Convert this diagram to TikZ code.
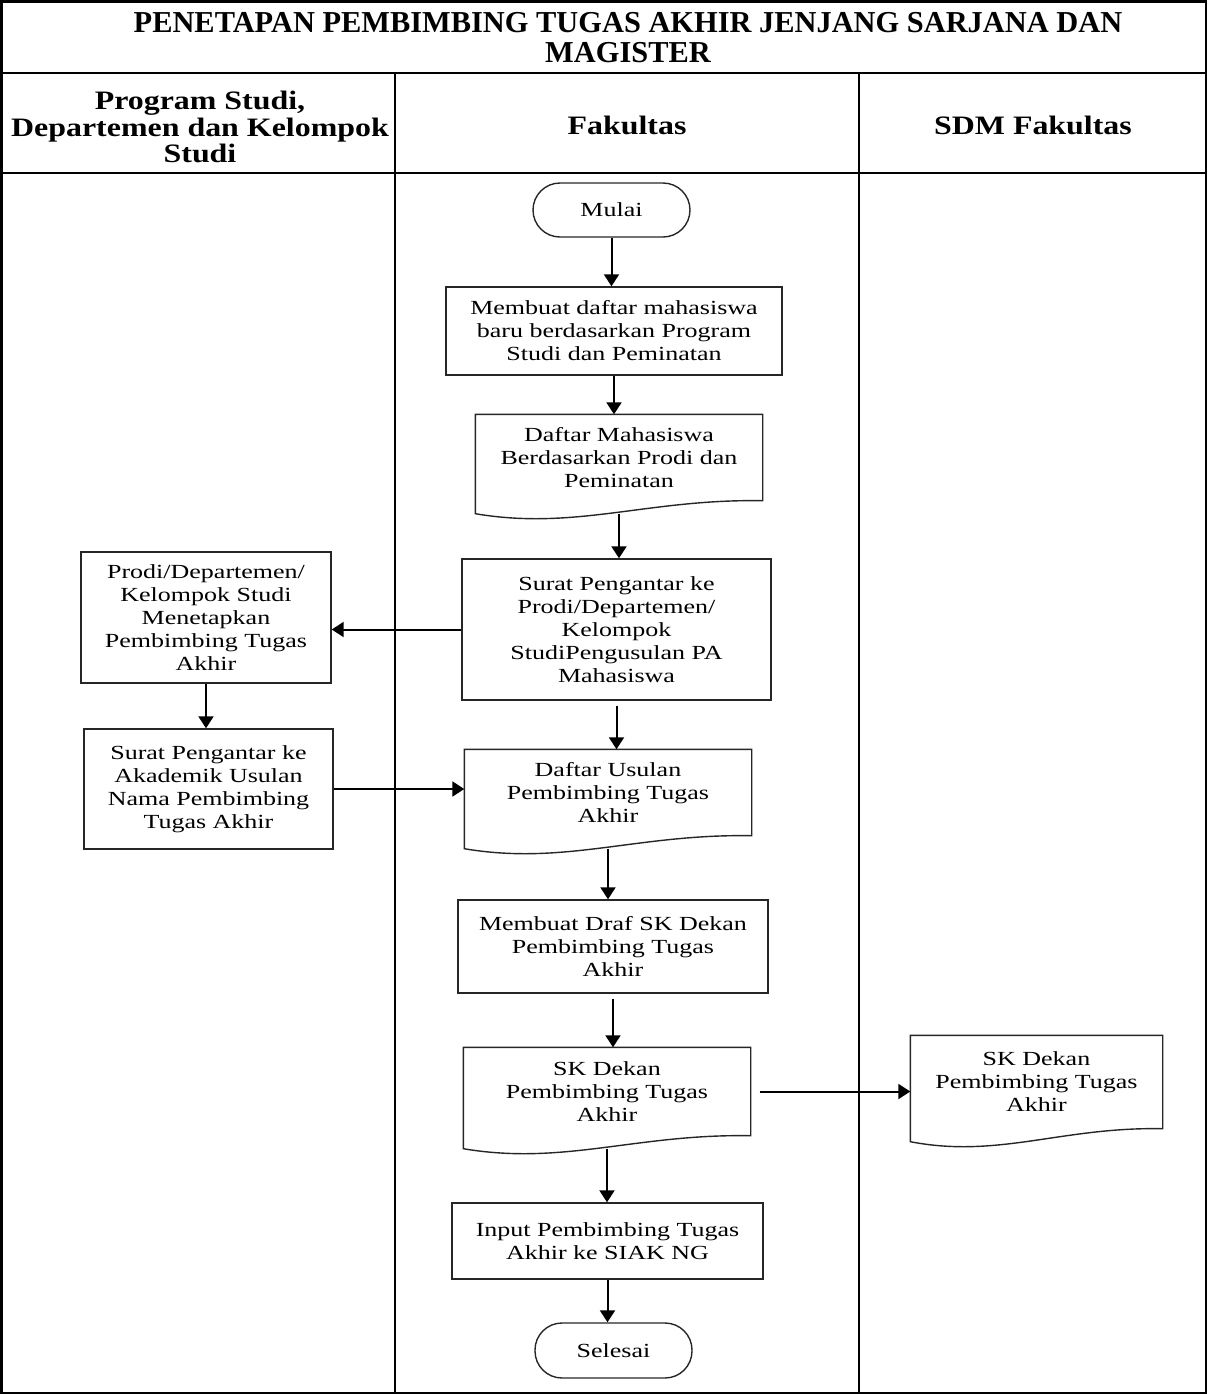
\documentclass[tikz,border=0pt]{standalone}
\usepackage{fontspec}
\setmainfont{Liberation Serif}
\newfontfamily\bodyfont{Liberation Serif}[FakeStretch=1.3]
\newfontfamily\headfont{Liberation Serif}[FakeStretch=1.2]
\newfontfamily\titlefont{Liberation Serif}
\usetikzlibrary{arrows.meta,calc}
\tikzset{
  box/.style={draw=black!85, line width=0.7pt, inner sep=0pt, align=center,
    font=\bodyfont\fontsize{10}{11.5}\selectfont},
  term/.style={box, rounded corners=13.5pt},
  doc/.style={box, draw=none},
  docline/.style={draw=black!85, line width=0.7pt},
  arr/.style={-{Triangle[length=6pt,width=7.5pt]}, line width=1pt},
  hdr/.style={align=center, inner sep=0pt, font=\headfont\bfseries\fontsize{13.3}{13.3}\selectfont},
}
\newcommand{\docpath}[1]{\draw[docline] (#1.south east) -- (#1.north east) -- (#1.north west) -- ($(#1.south west)+(0,13)$) .. controls ($(#1.south west)!0.35!(#1.south east)+(0,30)$) and ($(#1.south west)!0.6!(#1.south east)+(0,-2)$) .. cycle;}
\begin{document}
\begin{tikzpicture}[x=0.5pt,y=-0.5pt]
\useasboundingbox (0,0) rectangle (1207,1394);
% frame and lanes
\draw[line width=1.25pt] (1.25,1.25) rectangle (1205.75,1392.75);
\draw[line width=1pt] (0,73) -- (1207,73);
\draw[line width=1pt] (0,173) -- (1207,173);
\draw[line width=0.8pt] (395,73) -- (395,1394);
\draw[line width=0.8pt] (859,73) -- (859,1394);
% title and headers
\node[align=center, inner sep=0pt, font=\titlefont\bfseries\fontsize{15.2}{15}\selectfont] (title) at (628,38)
  {PENETAPAN PEMBIMBING TUGAS AKHIR JENJANG SARJANA DAN\\MAGISTER};
\node[hdr] (h1) at (200,127) {Program Studi,\\Departemen dan Kelompok\\Studi};
\node[hdr] (h2) at (627,125) {Fakultas};
\node[hdr] (h3) at (1033,125) {SDM Fakultas};
% nodes
\node[term, minimum width=78.5pt, minimum height=27pt] (mulai) at (611.5,210) {Mulai};
\node[box, minimum width=168pt, minimum height=44pt] (p1) at (614,331)
  {Membuat daftar mahasiswa\\baru berdasarkan Program\\Studi dan Peminatan};
\node[doc, minimum width=143pt, minimum height=42.5pt] (d1) at (619,457.5)
  {Daftar Mahasiswa\\Berdasarkan Prodi dan\\Peminatan};
\node[box, minimum width=154.5pt, minimum height=70.5pt] (p2) at (616.5,629.5)
  {Surat Pengantar ke\\Prodi/Departemen/\\Kelompok\\StudiPengusulan PA\\Mahasiswa};
\node[box, minimum width=125pt, minimum height=65.5pt] (q1) at (206,617.5)
  {Prodi/Departemen/\\Kelompok Studi\\Menetapkan\\Pembimbing Tugas\\Akhir};
\node[box, minimum width=124.5pt, minimum height=60pt] (q2) at (208.5,789)
  {Surat Pengantar ke\\Akademik Usulan\\Nama Pembimbing\\Tugas Akhir};
\node[doc, minimum width=143pt, minimum height=42.5pt] (d2) at (608,792.5)
  {Daftar Usulan\\Pembimbing Tugas\\Akhir};
\node[box, minimum width=155pt, minimum height=46.5pt] (p3) at (613,946.5)
  {Membuat Draf SK Dekan\\Pembimbing Tugas\\Akhir};
\node[doc, minimum width=143pt, minimum height=43.5pt] (d3) at (607,1091.5)
  {SK Dekan\\Pembimbing Tugas\\Akhir};
\node[doc, minimum width=125.5pt, minimum height=46pt] (d4) at (1036.5,1082)
  {SK Dekan\\Pembimbing Tugas\\Akhir};
\node[box, minimum width=155.5pt, minimum height=38pt] (p4) at (607.5,1241)
  {Input Pembimbing Tugas\\Akhir ke SIAK NG};
\node[term, minimum width=78.5pt, minimum height=27.5pt] (selesai) at (613.5,1350.5) {Selesai};
% document outlines
\docpath{d1}
\docpath{d2}
\docpath{d3}
\docpath{d4}
\coordinate (d1b) at ($(d1.south)+(0,13)$);
\coordinate (d2b) at ($(d2.south)+(0,13)$);
\coordinate (d3b) at ($(d3.south)+(0,13)$);
% connectors
\draw[arr] (mulai.south) -- (mulai.south |- p1.north);
\draw[arr] (p1.south) -- (p1.south |- d1.north);
\draw[arr] (d1b) -- (d1b |- p2.north);
\draw[arr] (p2.west) -- (p2.west -| q1.east);
\draw[arr] (q1.south) -- (q1.south |- q2.north);
\draw[arr] (q2.east) -- (q2.east -| d2.west);
\draw[arr, shorten <=2.5pt] (p2.south) -- (p2.south |- d2.north);
\draw[arr] (d2b) -- (d2b |- p3.north);
\draw[arr, shorten <=2.5pt] (p3.south) -- (p3.south |- d3.north);
\draw[arr] ($(d3.east)+(9,0)$) -- (d3.east -| d4.west);
\draw[arr] (d3b) -- (d3b |- p4.north);
\draw[arr] (p4.south) -- (p4.south |- selesai.north);
\end{tikzpicture}
\end{document}
